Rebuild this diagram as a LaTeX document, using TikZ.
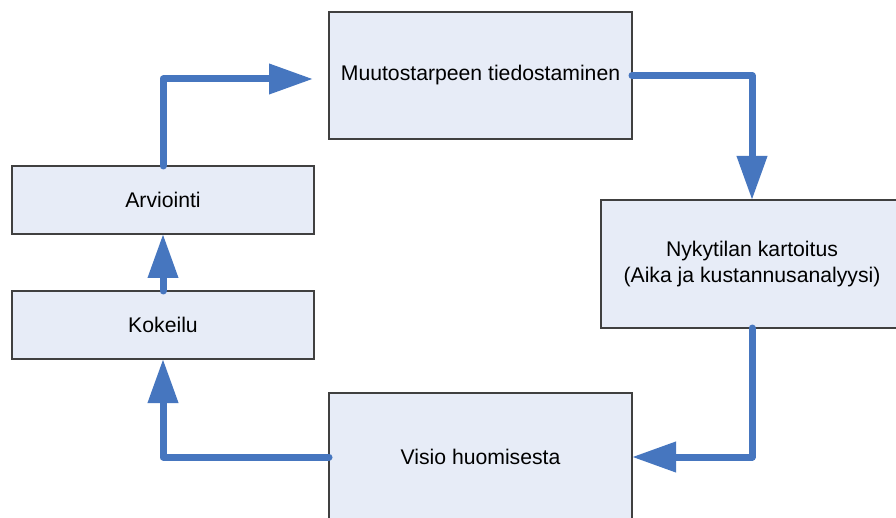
\documentclass[tikz,border=0pt]{standalone}
\usepackage{fontspec}
\setmainfont{Liberation Sans}
\usetikzlibrary{arrows.meta}
\definecolor{flowblue}{RGB}{70,118,191}
\definecolor{boxfill}{RGB}{231,236,247}
\definecolor{boxline}{RGB}{64,64,64}
\tikzset{
  stagebox/.style={draw=boxline, fill=boxfill, line width=1.3pt, rectangle,
    inner sep=0pt, outer sep=0pt, align=center,
    font=\fontsize{21.2}{26}\selectfont},
  flow/.style={draw=flowblue, line width=7pt, line cap=round, line join=round,
    -{Triangle[length=44pt,width=29pt]}}
}
\begin{document}
\begin{tikzpicture}[x=1pt,y=-1pt]
\clip (0,0) rectangle (896,518);
\fill[white] (0,0) rectangle (896,518);
\node[stagebox, minimum width=303pt, minimum height=127pt] (top) at (480.5,75.5) {Muutostarpeen tiedostaminen};
\node[stagebox, minimum width=302pt, minimum height=128pt] (right) at (752,264) {Nykytilan kartoitus\\(Aika ja kustannusanalyysi)};
\node[stagebox, minimum width=303pt, minimum height=128pt] (bottom) at (480.5,457) {Visio huomisesta};
\node[stagebox, minimum width=302pt, minimum height=68pt] (arv) at (163,200) {Arviointi};
\node[stagebox, minimum width=302pt, minimum height=68pt] (kok) at (163,325) {Kokeilu};
\coordinate (topin) at (313,79);
\draw[flow] (top.east) -| (right.north);
\draw[flow] (right.south) |- (bottom.east);
\draw[flow] (bottom.west) -| (kok.south);
\draw[flow] (kok.north) -- (arv.south);
\draw[flow] (arv.north) |- (topin);
\end{tikzpicture}
\end{document}
